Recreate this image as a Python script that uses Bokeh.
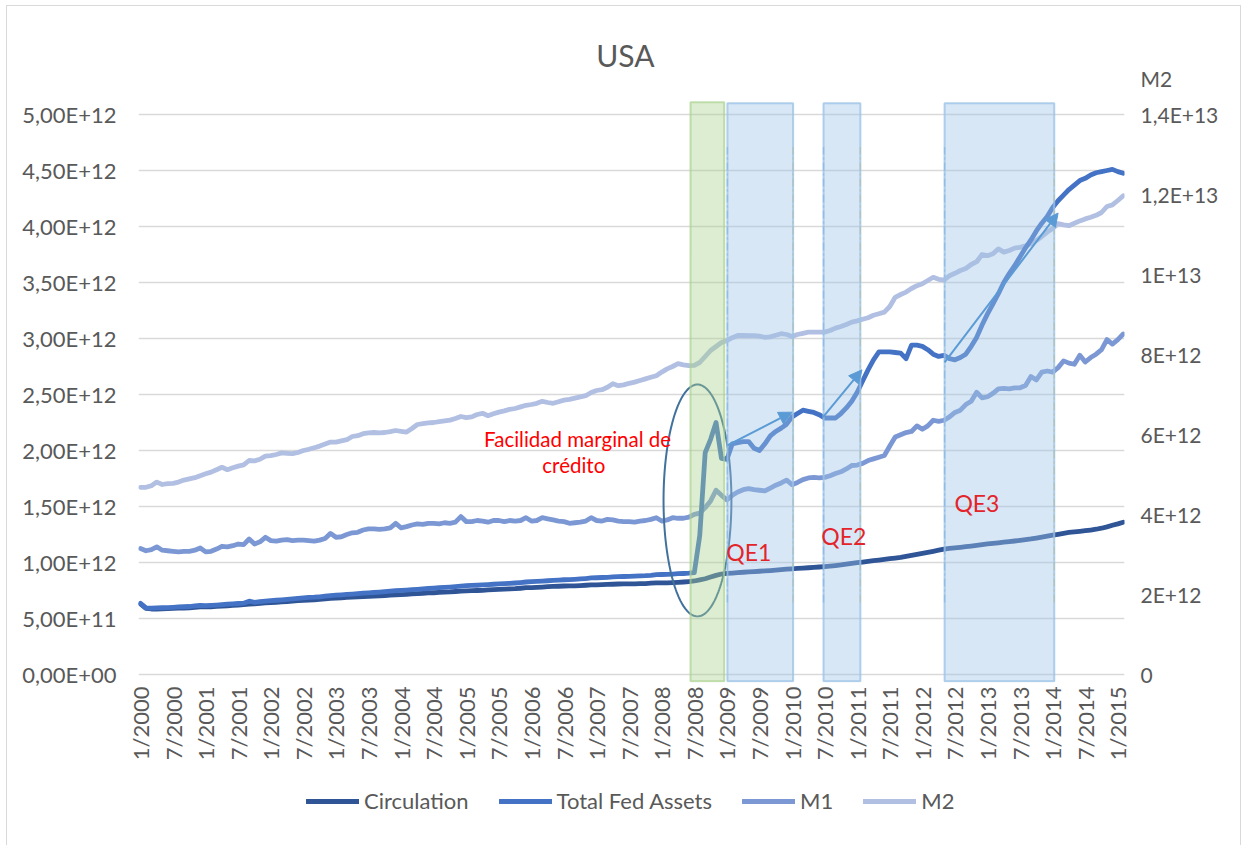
import math
import numpy as np
import pandas as pd
from bokeh.plotting import figure
from bokeh.layouts import column
from bokeh.models import (Range1d, LinearAxis, FixedTicker, Legend, LegendItem,
                          BoxAnnotation, Label, Arrow, NormalHead)
from bokeh.embed import file_html
from bokeh.resources import INLINE

# Monthly observations, January 2000 to February 2015, in trillions of USD
circulation = [
    0.630, 0.590, 0.585, 0.585, 0.586, 0.588, 0.590, 0.592, 0.593, 0.595, 0.600, 0.605,
    0.603, 0.605, 0.608, 0.611, 0.614, 0.617, 0.620, 0.623, 0.628, 0.630, 0.635, 0.640,
    0.642, 0.645, 0.648, 0.651, 0.655, 0.659, 0.662, 0.665, 0.667, 0.670, 0.675, 0.680,
    0.682, 0.685, 0.688, 0.690, 0.693, 0.696, 0.698, 0.700, 0.703, 0.705, 0.708, 0.712,
    0.714, 0.716, 0.719, 0.722, 0.725, 0.728, 0.730, 0.733, 0.735, 0.737, 0.741, 0.745,
    0.746, 0.748, 0.750, 0.752, 0.755, 0.758, 0.760, 0.762, 0.764, 0.766, 0.770, 0.775,
    0.776, 0.778, 0.781, 0.784, 0.786, 0.788, 0.790, 0.791, 0.792, 0.794, 0.797, 0.800,
    0.801, 0.802, 0.804, 0.806, 0.808, 0.809, 0.810, 0.810, 0.811, 0.812, 0.815, 0.818,
    0.818, 0.819, 0.821, 0.823, 0.826, 0.830, 0.835, 0.845, 0.855, 0.870, 0.885, 0.897,
    0.903, 0.906, 0.910, 0.913, 0.916, 0.919, 0.922, 0.925, 0.928, 0.932, 0.936, 0.940,
    0.944, 0.947, 0.950, 0.953, 0.957, 0.960, 0.964, 0.968, 0.973, 0.978, 0.985, 0.992,
    0.998, 1.004, 1.010, 1.016, 1.022, 1.028, 1.034, 1.040, 1.046, 1.055, 1.064, 1.073,
    1.082, 1.091, 1.100, 1.110, 1.120, 1.126, 1.131, 1.136, 1.141, 1.147, 1.153, 1.160,
    1.166, 1.171, 1.176, 1.181, 1.186, 1.192, 1.198, 1.204, 1.210, 1.218, 1.226, 1.235,
    1.244, 1.252, 1.261, 1.268, 1.273, 1.278, 1.284, 1.290, 1.297, 1.306, 1.318, 1.332,
    1.345, 1.360,
]

total_fed_assets = [
    0.635, 0.595, 0.592, 0.594, 0.596, 0.598, 0.600, 0.603, 0.605, 0.607, 0.612, 0.618,
    0.615, 0.617, 0.620, 0.624, 0.628, 0.631, 0.634, 0.637, 0.655, 0.645, 0.650, 0.656,
    0.660, 0.663, 0.667, 0.671, 0.676, 0.680, 0.684, 0.688, 0.690, 0.694, 0.699, 0.705,
    0.708, 0.711, 0.715, 0.718, 0.722, 0.726, 0.729, 0.732, 0.736, 0.740, 0.744, 0.748,
    0.751, 0.754, 0.757, 0.761, 0.765, 0.768, 0.771, 0.775, 0.778, 0.781, 0.785, 0.790,
    0.793, 0.795, 0.797, 0.800, 0.803, 0.806, 0.809, 0.811, 0.814, 0.817, 0.821, 0.826,
    0.829, 0.831, 0.834, 0.837, 0.840, 0.843, 0.846, 0.848, 0.850, 0.853, 0.857, 0.862,
    0.864, 0.866, 0.868, 0.871, 0.873, 0.875, 0.877, 0.878, 0.880, 0.882, 0.886, 0.892,
    0.893, 0.894, 0.897, 0.900, 0.902, 0.905, 0.910, 1.240, 1.980, 2.100, 2.250, 1.930,
    1.920, 2.060, 2.070, 2.080, 2.080, 2.020, 2.000, 2.060, 2.130, 2.170, 2.200, 2.235,
    2.300, 2.330, 2.360, 2.350, 2.340, 2.320, 2.290, 2.290, 2.290, 2.330, 2.380, 2.440,
    2.520, 2.620, 2.720, 2.810, 2.880, 2.880, 2.880, 2.875, 2.870, 2.820, 2.940, 2.940,
    2.930, 2.900, 2.860, 2.840, 2.850, 2.820, 2.810, 2.830, 2.860, 2.930, 3.010, 3.120,
    3.220, 3.310, 3.400, 3.500, 3.580, 3.650, 3.730, 3.810, 3.880, 3.960, 4.030, 4.090,
    4.170, 4.230, 4.280, 4.330, 4.370, 4.410, 4.430, 4.460, 4.480, 4.490, 4.500, 4.510,
    4.490, 4.475,
]

m1 = [
    1.125, 1.105, 1.115, 1.140, 1.110, 1.105, 1.100, 1.095, 1.100, 1.100, 1.110, 1.130,
    1.095, 1.100, 1.120, 1.145, 1.140, 1.150, 1.165, 1.160, 1.210, 1.165, 1.185, 1.225,
    1.195, 1.190, 1.200, 1.205, 1.195, 1.200, 1.200, 1.195, 1.190, 1.200, 1.215, 1.260,
    1.225, 1.230, 1.250, 1.265, 1.270, 1.290, 1.300, 1.300, 1.295, 1.300, 1.310, 1.350,
    1.310, 1.320, 1.335, 1.345, 1.340, 1.350, 1.350, 1.345, 1.355, 1.350, 1.360, 1.410,
    1.365, 1.365, 1.375, 1.370, 1.360, 1.375, 1.375, 1.365, 1.375, 1.370, 1.375, 1.400,
    1.370, 1.375, 1.400, 1.390, 1.380, 1.370, 1.365, 1.350, 1.355, 1.360, 1.370, 1.400,
    1.375, 1.370, 1.385, 1.380, 1.370, 1.365, 1.365, 1.360, 1.370, 1.375, 1.385, 1.400,
    1.370, 1.380, 1.400, 1.395, 1.395, 1.405, 1.430, 1.440, 1.490, 1.550, 1.645, 1.600,
    1.560, 1.600, 1.630, 1.650, 1.660, 1.650, 1.645, 1.640, 1.665, 1.690, 1.710, 1.735,
    1.695, 1.715, 1.740, 1.755, 1.760, 1.755, 1.760, 1.775, 1.795, 1.810, 1.835, 1.866,
    1.870, 1.885, 1.910, 1.925, 1.940, 1.955, 2.040, 2.120, 2.140, 2.160, 2.170, 2.220,
    2.190, 2.220, 2.270, 2.260, 2.270, 2.300, 2.340, 2.360, 2.410, 2.440, 2.520, 2.470,
    2.480, 2.510, 2.550, 2.555, 2.550, 2.560, 2.560, 2.580, 2.660, 2.630, 2.700, 2.710,
    2.700, 2.740, 2.800, 2.780, 2.770, 2.850, 2.790, 2.830, 2.860, 2.900, 2.990, 2.950,
    2.990, 3.040,
]

m2 = [
    4.68, 4.68, 4.72, 4.81, 4.75, 4.77, 4.78, 4.81, 4.86, 4.89, 4.92, 4.97,
    5.02, 5.06, 5.12, 5.18, 5.12, 5.17, 5.21, 5.24, 5.35, 5.34, 5.38, 5.46,
    5.47, 5.50, 5.54, 5.53, 5.52, 5.55, 5.60, 5.63, 5.67, 5.71, 5.76, 5.81,
    5.81, 5.84, 5.87, 5.95, 5.97, 6.02, 6.04, 6.05, 6.04, 6.05, 6.07, 6.10,
    6.08, 6.06, 6.15, 6.25, 6.27, 6.29, 6.30, 6.32, 6.34, 6.36, 6.40, 6.45,
    6.42, 6.44, 6.50, 6.53, 6.47, 6.52, 6.56, 6.59, 6.63, 6.65, 6.69, 6.73,
    6.75, 6.78, 6.83, 6.80, 6.78, 6.82, 6.86, 6.88, 6.91, 6.94, 6.97, 7.05,
    7.10, 7.12, 7.18, 7.27, 7.22, 7.24, 7.28, 7.31, 7.35, 7.39, 7.43, 7.47,
    7.56, 7.64, 7.70, 7.77, 7.74, 7.72, 7.73, 7.80, 7.95, 8.10, 8.20, 8.30,
    8.35, 8.42, 8.475, 8.48, 8.47, 8.47, 8.46, 8.43, 8.44, 8.48, 8.52, 8.50,
    8.45, 8.50, 8.53, 8.56, 8.56, 8.56, 8.56, 8.60, 8.66, 8.70, 8.75, 8.81,
    8.84, 8.88, 8.92, 8.98, 9.02, 9.06, 9.20, 9.43, 9.50, 9.56, 9.65, 9.72,
    9.77, 9.85, 9.93, 9.88, 9.86, 9.97, 10.03, 10.10, 10.15, 10.25, 10.32, 10.50,
    10.47, 10.52, 10.64, 10.56, 10.60, 10.66, 10.68, 10.72, 10.77, 10.85, 10.95, 11.06,
    11.15, 11.27, 11.24, 11.22, 11.28, 11.34, 11.39, 11.43, 11.48, 11.55, 11.70, 11.74,
    11.85, 11.97,
]

# Axis ticks and their labels
date_tick_labels = [
    "1/2000", "7/2000", "1/2001", "7/2001", "1/2002", "7/2002", "1/2003", "7/2003",
    "1/2004", "7/2004", "1/2005", "7/2005", "1/2006", "7/2006", "1/2007", "7/2007",
    "1/2008", "7/2008", "1/2009", "7/2009", "1/2010", "7/2010", "1/2011", "7/2011",
    "1/2012", "7/2012", "1/2013", "7/2013", "1/2014", "7/2014", "1/2015",
]
left_tick_values = [0, 0.5, 1.0, 1.5, 2.0, 2.5, 3.0, 3.5, 4.0, 4.5, 5.0]
left_tick_labels = ["0,00E+00", "5,00E+11", "1,00E+12", "1,50E+12", "2,00E+12", "2,50E+12",
                    "3,00E+12", "3,50E+12", "4,00E+12", "4,50E+12", "5,00E+12"]
right_tick_values = [0, 2, 4, 6, 8, 10, 12, 14]
right_tick_labels = ["0", "2E+12", "4E+12", "6E+12", "8E+12", "1E+13", "1,2E+13", "1,4E+13"]
right_axis_title = "M2"
right_axis_title_level = 14.9

# Highlighted periods (start, end)
crisis_period = ("2008-06-10", "2008-12-17")
qe_names = ["QE1", "QE2", "QE3"]
qe_starts = ["2009-01-04", "2010-06-25", "2012-05-04"]
qe_ends = ["2010-01-07", "2011-01-19", "2014-01-10"]

# Trend arrows over Total Fed Assets during each programme: (date, value) pairs
arrow_start_dates = ["2009-01-04", "2010-06-22", "2012-05-04"]
arrow_start_values = [2.045, 2.297, 2.786]
arrow_end_dates = ["2010-01-01", "2011-01-28", "2014-02-01"]
arrow_end_values = [2.342, 2.720, 4.120]

# Ring drawn around the emergency-lending spike: centre and half-extents
ring_center_date = "2008-07-19"
ring_center_value = 1.554
ring_half_months = 6.25
ring_half_value = 1.035


def month_pos(date_str):
    d = pd.Timestamp(date_str)
    return (d.year - 2000) * 12 + (d.month - 1) + (d.day - 1) / d.days_in_month


def label_pos(label):
    month, year = label.split("/")
    return (int(year) - 2000) * 12 + int(month) - 1


months = list(range(len(circulation)))

FONT = "Lato"
GREY_TEXT = "#595959"
GRID = "#D9D9D9"
BORDER = "1px solid #D9D9D9"
C_CIRC = "#2F5597"
C_TOTAL = "#4472C4"
C_M1 = "#7C98D4"
C_M2 = "#B1BFE2"
ARROW = "#5B9BD5"
LINE_W = 4.8

p = figure(width=1235, height=766, output_backend="svg", toolbar_location=None, title=None,
           x_range=Range1d(-0.37, 181.23), y_range=Range1d(-0.0714, 5.75),
           min_border_left=131, min_border_right=118, min_border_top=24,
           min_border_bottom=90, outline_line_color=None,
           background_fill_color="white", border_fill_color="white")
p.extra_y_ranges = {"m2": Range1d(-0.2, 16.1)}
p.margin = (5, 0, 0, 6)
p.styles = {"border-left": BORDER, "border-top": BORDER, "border-right": BORDER}

# Grid
p.xgrid.grid_line_color = None
p.ygrid.grid_line_color = GRID
p.ygrid.grid_line_width = 1.5
p.ygrid.ticker = FixedTicker(ticks=left_tick_values)

# Bottom (date) axis; the zero gridline serves as its baseline
xa = p.xaxis[0]
xa.ticker = FixedTicker(ticks=[label_pos(t) for t in date_tick_labels])
xa.major_label_overrides = {label_pos(t): t for t in date_tick_labels}
xa.major_label_orientation = math.pi / 2
xa.axis_line_color = None
xa.major_tick_line_color = None
xa.minor_tick_line_color = None
xa.major_tick_out = 0
xa.major_label_standoff = 4
xa.major_label_text_font = FONT
xa.major_label_text_font_size = "22px"
xa.major_label_text_color = GREY_TEXT

# Left value axis
ya = p.yaxis[0]
ya.ticker = FixedTicker(ticks=left_tick_values)
ya.major_label_overrides = dict(zip(left_tick_values, left_tick_labels))
ya.axis_line_color = None
ya.major_tick_line_color = None
ya.minor_tick_line_color = None
ya.major_tick_out = 0
ya.major_label_standoff = 22
ya.major_label_text_font = FONT
ya.major_label_text_font_size = "22px"
ya.major_label_text_color = GREY_TEXT

# Right axis for M2, captioned at its top
ra = LinearAxis(y_range_name="m2",
                ticker=FixedTicker(ticks=right_tick_values + [right_axis_title_level]))
overrides = dict(zip(right_tick_values, right_tick_labels))
overrides[right_axis_title_level] = right_axis_title
ra.major_label_overrides = overrides
ra.axis_line_color = None
ra.major_tick_line_color = None
ra.minor_tick_line_color = None
ra.major_tick_out = 0
ra.major_label_standoff = 16
ra.major_label_text_font = FONT
ra.major_label_text_font_size = "21px"
ra.major_label_text_color = GREY_TEXT
p.add_layout(ra, "right")

# Dash-dot markers at the start (blue) and end (orange) of each programme
for s, e in zip(qe_starts, qe_ends):
    p.segment(x0=[month_pos(s)], y0=[0.643], x1=[month_pos(s)], y1=[4.71],
              line_color=ARROW, line_width=1.3, line_dash="8 3 2 3")
    p.segment(x0=[month_pos(e)], y0=[0.643], x1=[month_pos(e)], y1=[4.71],
              line_color="#FFC000", line_width=1.3, line_dash="8 3 2 3")

# Series
line_kw = dict(line_width=LINE_W, line_join="round", line_cap="round")
p.line(months, m2, line_color=C_M2, y_range_name="m2", **line_kw)
p.line(months, m1, line_color=C_M1, **line_kw)
p.line(months, circulation, line_color=C_CIRC, **line_kw)
p.line(months, total_fed_assets, line_color=C_TOTAL, **line_kw)

# Ring around the emergency-lending spike, traced as a closed outline
theta = np.linspace(0, 2 * np.pi, 181)
ring_x = month_pos(ring_center_date) + ring_half_months * np.cos(theta)
ring_y = ring_center_value + ring_half_value * np.sin(theta)
p.line(ring_x, ring_y, line_color="#41719C", line_width=2)

# Shaded periods
p.add_layout(BoxAnnotation(left=month_pos(crisis_period[0]), right=month_pos(crisis_period[1]),
                           top=5.11, bottom=-0.06,
                           fill_color="#A9D18E", fill_alpha=0.4,
                           line_color="#A9D18E", line_alpha=0.7, line_width=2))
for s, e in zip(qe_starts, qe_ends):
    p.add_layout(BoxAnnotation(left=month_pos(s), right=month_pos(e), top=5.10, bottom=-0.06,
                               fill_color="#9DC3E6", fill_alpha=0.4,
                               line_color="#9DC3E6", line_alpha=0.8, line_width=2))

# Trend arrows
for sd, sv, ed, ev in zip(arrow_start_dates, arrow_start_values, arrow_end_dates, arrow_end_values):
    p.add_layout(Arrow(end=NormalHead(size=13, fill_color=ARROW, line_color=ARROW, line_width=1),
                       x_start=month_pos(sd), y_start=sv, x_end=month_pos(ed), y_end=ev,
                       line_color=ARROW, line_width=2))

# Annotations
RED = "#FF0000"
p.add_layout(Label(x=80.5, y=2.107, text="Facilidad marginal de", text_font=FONT,
                   text_font_size="20.5px", text_color=RED, text_align="center",
                   text_baseline="middle"))
p.add_layout(Label(x=79.8, y=1.875, text="crédito", text_font=FONT,
                   text_font_size="20.5px", text_color=RED, text_align="center",
                   text_baseline="middle"))
qe_label_x = [107.9, 125.4, 149.9]
qe_label_y = [1.092, 1.241, 1.529]
for name, lx, ly in zip(qe_names, qe_label_x, qe_label_y):
    p.add_layout(Label(x=lx, y=ly, text=name, text_font=FONT, text_font_size="23px",
                       text_color="#E3242B", text_align="left", text_baseline="middle"))

# Chart title
p.add_layout(Label(x=89.3, y=5.527, text="USA", text_font=FONT, text_font_size="30px",
                   text_color=GREY_TEXT, text_align="center", text_baseline="middle"))

# Legend strip under the chart (its frame lines up with the chart frame)
series_names = ["Circulation", "Total Fed Assets", "M1", "M2"]
series_colors = [C_CIRC, C_TOTAL, C_M1, C_M2]
q = figure(width=1235, height=74, output_backend="svg", toolbar_location=None, title=None,
           x_axis_location=None, y_axis_location=None, min_border=0,
           outline_line_color=None, x_range=Range1d(0, 1), y_range=Range1d(0, 1),
           background_fill_color="white", border_fill_color="white")
q.grid.visible = False
q.margin = (0, 0, 0, 6)
q.styles = {"border-left": BORDER, "border-right": BORDER}
items = []
for name, color in zip(series_names, series_colors):
    # legend swatch only: a single undefined point leaves the strip itself blank
    r = q.line(x=[float("nan")], y=[float("nan")], line_color=color, **line_kw)
    items.append(LegendItem(label=name, renderers=[r]))
q.add_layout(Legend(items=items, orientation="horizontal", location=(168, 31),
                    glyph_width=53, glyph_height=22, label_standoff=5, spacing=30,
                    padding=0, margin=0, border_line_color=None, background_fill_alpha=0,
                    label_text_font=FONT, label_text_font_size="22px",
                    label_text_color=GREY_TEXT), "center")

layout = column(p, q, spacing=0)
open("out.html", "w").write(file_html(layout, INLINE))
